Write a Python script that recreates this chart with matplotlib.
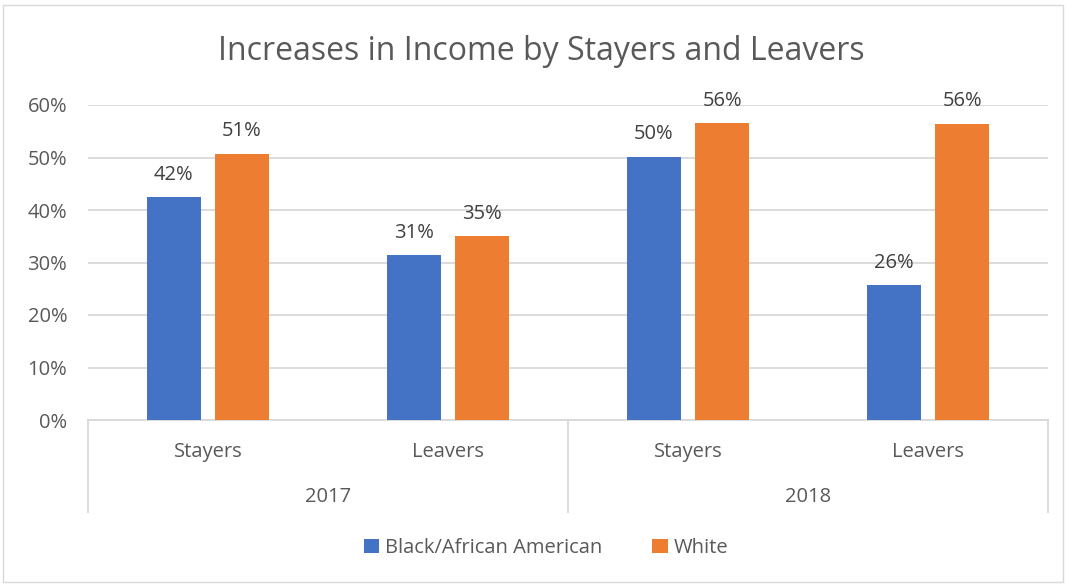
import numpy as np
import matplotlib.pyplot as plt
from matplotlib.patches import Rectangle
from matplotlib.lines import Line2D

plt.rcParams['font.family'] = ['Open Sans', 'DejaVu Sans']

# データ
years = ['2017', '2018']
groups = ['Stayers', 'Leavers', 'Stayers', 'Leavers']
black = [42.4, 31.4, 50.1, 25.7]
white = [50.7, 35.0, 56.5, 56.4]
series_names = ['Black/African American', 'White']
colors = ['#4472C4', '#ED7D31']
y_ticks = [0, 10, 20, 30, 40, 50, 60]

W, H = 1067, 585
fig = plt.figure(figsize=(W / 100, H / 100), dpi=100)

# 外枠
fig.patches.append(Rectangle((3 / W, 3 / H), (W - 7) / W, (H - 8) / H,
                             transform=fig.transFigure, fill=False,
                             edgecolor='#d9d9d9', linewidth=1))

left, right = 88 / W, 1048 / W
bottom, top = 1 - 420 / H, 1 - 105 / H
ax = fig.add_axes([left, bottom, right - left, top - bottom])

x = np.arange(len(groups))
bw = 0.225
off = 0.142
b1 = ax.bar(x - off, black, bw, color=colors[0], label=series_names[0], zorder=3)
b2 = ax.bar(x + off, white, bw, color=colors[1], label=series_names[1], zorder=3)

fs = 14.5
for bars, vals in [(b1, black), (b2, white)]:
    for b, v in zip(bars, vals):
        ax.annotate(f'{round(v):.0f}%', (b.get_x() + b.get_width() / 2, v),
                    xytext=(0, 9), textcoords='offset points',
                    ha='center', va='bottom', fontsize=fs, color='#404040')

ax.set_xlim(-0.5, len(groups) - 0.5)
ax.set_ylim(0, 60)
ax.set_yticks(y_ticks)
ax.set_yticklabels([f'{t}%' for t in y_ticks], fontsize=fs, color='#595959')
ax.tick_params(axis='y', length=0, pad=15)
ax.yaxis.grid(True, color='#d9d9d9', linewidth=1.3, zorder=0)
ax.set_xticks([])
for s in ['top', 'right', 'left']:
    ax.spines[s].set_visible(False)
ax.spines['bottom'].set_color('#d9d9d9')
ax.spines['bottom'].set_linewidth(1.3)

# 2段のカテゴリ軸
trans = ax.get_xaxis_transform()
for xv in [-0.5, 1.5, 3.5]:
    ax.add_line(Line2D([xv, xv], [0, -92 / 315], transform=trans,
                       color='#d9d9d9', linewidth=1.3, clip_on=False))
for i, g in enumerate(groups):
    ax.text(i, -32 / 315, g, transform=trans, ha='center', va='center',
            fontsize=fs, color='#595959')
for j, yr in enumerate(years):
    ax.text(2 * j + 0.5, -77 / 315, yr, transform=trans, ha='center', va='center',
            fontsize=fs, color='#595959')

fig.text(541 / W, 1 - 51 / H, 'Increases in Income by Stayers and Leavers',
         ha='center', va='center', fontsize=23, color='#595959')

fig.legend(loc='center', bbox_to_anchor=(546 / W, 1 - 548 / H), ncol=2,
           frameon=False, fontsize=fs, handlelength=0.75, handleheight=0.75,
           handletextpad=0.3, columnspacing=2.5, labelcolor='#595959')

fig.savefig('out.png', dpi=100)
